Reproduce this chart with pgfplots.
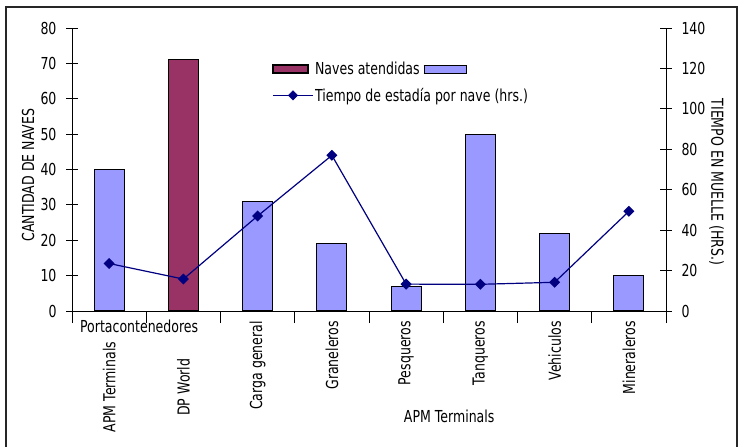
\documentclass[border=0pt]{standalone}
\usepackage{pgfplots}
\pgfplotsset{compat=1.18}
\usepackage{fontspec}
\setmainfont{DejaVu Sans}[FakeStretch=0.76]

\definecolor{barblue}{HTML}{9999FF}
\definecolor{barred}{HTML}{993366}
\definecolor{linenavy}{HTML}{000080}

\setlength{\fboxsep}{0pt}
\setlength{\fboxrule}{1bp}

\pgfplotsset{
  common/.style={
    scale only axis, width=594bp, height=283bp,
    at={(72bp,136bp)}, anchor=south west,
    xmin=-0.5, xmax=7.5, ymin=0,
    tick align=center, major tick length=12bp,
    every tick/.style={black, line width=0.8bp},
    axis line style={black, line width=0.8bp},
    /pgf/number format/assume math mode=true,
    tick label style={font=\fontsize{16.5bp}{19bp}\selectfont},
    label style={font=\fontsize{16.5bp}{19bp}\selectfont},
  },
}

\begin{document}
\begin{tikzpicture}[font=\fontsize{16.5bp}{19bp}\selectfont]
\useasboundingbox (0,0) rectangle (746bp,447bp);
\draw[line width=1.5bp, black!85] (6bp,-10bp) -- (6bp,440bp) -- (737bp,440bp) -- (737bp,-10bp);

\begin{axis}[common, clip=false,
    ymax=80, ytick={0,10,...,80},
    axis y line*=left, axis x line*=bottom,
    xtick={-0.5,0.5,...,7.5},
    xticklabels={},
    extra x ticks={0,...,7},
    extra x tick labels={\makebox[132bp][c]{APM Terminals},\makebox[132bp][c]{DP World},Carga general,Graneleros,Pesqueros,Tanqueros,Vehiculos,Mineraleros},
    extra x tick style={major tick length=0pt},
    xticklabel style={rotate=90, anchor=east, inner sep=0pt, xshift=-10bp},
    yticklabel style={xshift=-6bp},
    ylabel={CANTIDAD DE NAVES},
    ylabel style={at={(axis description cs:-0.074,0.48)}, rotate=0, anchor=center},
    xlabel={APM Terminals},
    xlabel style={at={(axis description cs:0.635,-0.371)}, anchor=center},
    ybar, bar width=0.404, bar shift=0pt,
    legend style={draw=none, fill=none, at={(axis description cs:0.337,0.886)}, anchor=north west,
      row sep=9bp, inner sep=0pt, nodes={inner sep=1.5bp}},
    legend cell align=left,
  ]
\addplot[draw=black, line width=1.2bp, fill=barblue, forget plot] coordinates {
  (0,40) (2,31) (3,19) (4,7) (5,50) (6,22) (7,10)
};
\addplot[draw=black, line width=1.2bp, fill=barred,
  legend image code/.code={\draw[black, line width=1.2bp, fill=barred] (0bp,-4bp) rectangle (35bp,4bp);}]
  coordinates {(1,71)};
\addlegendentry{Naves atendidas \raisebox{1.5bp}{\fcolorbox{black}{barblue}{\rule{0pt}{7bp}\rule{41bp}{0pt}}}}
\addlegendimage{legend image code/.code={
  \draw[linenavy, line width=1.2bp] (0bp,0bp) -- (40bp,0bp);
  \fill[linenavy] (20bp,0bp) +(-4.7bp,0bp) -- +(0bp,4.7bp) -- +(4.7bp,0bp) -- +(0bp,-4.7bp) -- cycle;}}
\addlegendentry{Tiempo de estadía por nave (hrs.)}
\node at (axis description cs:0.113,-0.056) {Portacontenedores};
\end{axis}

\begin{axis}[common,
    ymax=140, ytick={0,20,...,140},
    axis y line*=right, axis x line=none,
    yticklabel style={xshift=6bp},
    ylabel={TIEMPO EN MUELLE (HRS.)},
    ylabel style={at={(axis description cs:1.085,0.456)}, rotate=180, anchor=center},
  ]
\addplot[linenavy, line width=1.2bp, mark=square*, mark size=3.3bp, mark options={rotate=45}] coordinates {
  (0,23.5) (1,15.8) (2,47) (3,77) (4,13.3) (5,13.2) (6,14.2) (7,49.3)
};
\end{axis}
\end{tikzpicture}
\end{document}
